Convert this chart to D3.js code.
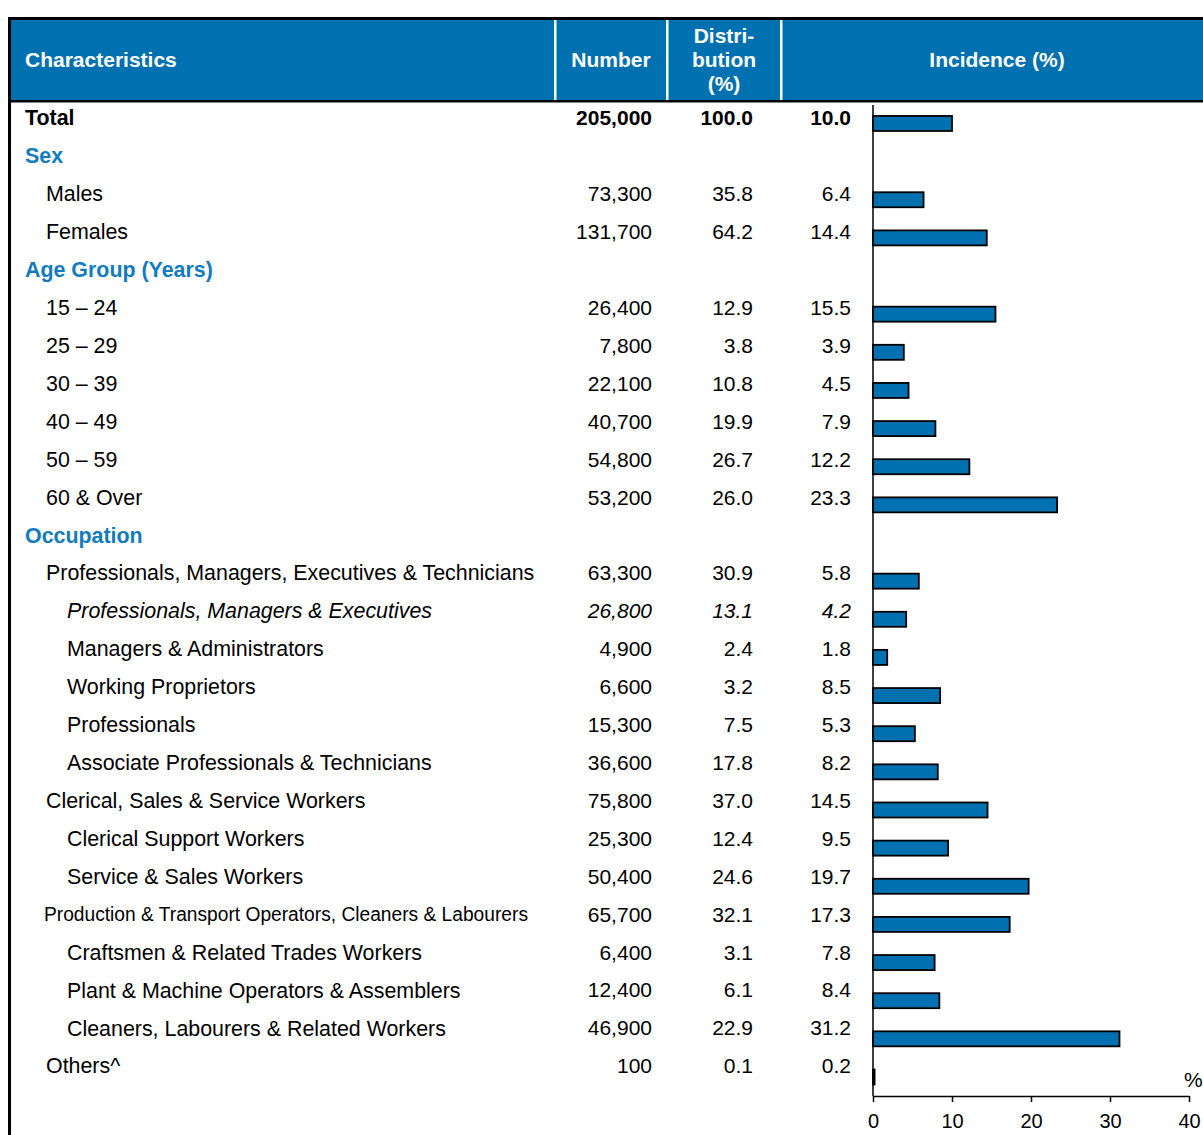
<!DOCTYPE html>
<html>
<head>
<meta charset="utf-8">
<script src="https://cdn.jsdelivr.net/npm/d3@7"></script>
<style>
  body { margin: 0; background: #fff; }
  text { font-family: "Liberation Sans", Arial, sans-serif; }
</style>
</head>
<body>
<div id="chart"></div>
<script>
// table rows
const labels = [
  "Total", "Sex", "Males", "Females", "Age Group (Years)",
  "15 \u2013 24", "25 \u2013 29", "30 \u2013 39", "40 \u2013 49", "50 \u2013 59", "60 & Over",
  "Occupation",
  "Professionals, Managers, Executives & Technicians",
  "Professionals, Managers & Executives",
  "Managers & Administrators",
  "Working Proprietors",
  "Professionals",
  "Associate Professionals & Technicians",
  "Clerical, Sales & Service Workers",
  "Clerical Support Workers",
  "Service & Sales Workers",
  "Production & Transport Operators, Cleaners & Labourers",
  "Craftsmen & Related Trades Workers",
  "Plant & Machine Operators & Assemblers",
  "Cleaners, Labourers & Related Workers",
  "Others^"
];
// 0 = total, 1 = section, 2 = item, 3 = sub item, 4 = italic sub item, 5 = narrow item
const kinds = [0, 1, 2, 2, 1, 2, 2, 2, 2, 2, 2, 1, 2, 4, 3, 3, 3, 3, 2, 3, 3, 5, 3, 3, 3, 2];
const numbers = ["205,000", null, "73,300", "131,700", null,
  "26,400", "7,800", "22,100", "40,700", "54,800", "53,200", null,
  "63,300", "26,800", "4,900", "6,600", "15,300", "36,600",
  "75,800", "25,300", "50,400", "65,700", "6,400", "12,400", "46,900", "100"];
const distribution = ["100.0", null, "35.8", "64.2", null,
  "12.9", "3.8", "10.8", "19.9", "26.7", "26.0", null,
  "30.9", "13.1", "2.4", "3.2", "7.5", "17.8",
  "37.0", "12.4", "24.6", "32.1", "3.1", "6.1", "22.9", "0.1"];
const incidence = [10.0, null, 6.4, 14.4, null,
  15.5, 3.9, 4.5, 7.9, 12.2, 23.3, null,
  5.8, 4.2, 1.8, 8.5, 5.3, 8.2,
  14.5, 9.5, 19.7, 17.3, 7.8, 8.4, 31.2, 0.2];
const xTicks = [0, 10, 20, 30, 40];

const W = 1203, H = 1135;
const blue = "#0071b0";
const sectionBlue = "#127bbf";

const svg = d3.select("#chart").append("svg")
  .attr("width", W).attr("height", H);

// text rows and bar rows are spaced slightly differently in the original
const y = d3.scaleBand()
  .domain(d3.range(labels.length))
  .range([99, 99 + 37.92 * labels.length]);
const yBar = d3.scaleBand()
  .domain(d3.range(labels.length))
  .range([104.4, 104.4 + 38.14 * labels.length]);
const x = d3.scaleLinear().domain([0, 40]).range([873, 1189]);

// header
svg.append("rect").attr("x", 11).attr("y", 20).attr("width", W - 11).attr("height", 80).attr("fill", blue);
svg.append("rect").attr("x", 8).attr("y", 17).attr("width", W - 8).attr("height", 3).attr("fill", "#000");
svg.append("rect").attr("x", 8).attr("y", 17).attr("width", 3).attr("height", H - 17).attr("fill", "#000");
svg.append("rect").attr("x", 11).attr("y", 100).attr("width", W - 11).attr("height", 2.5).attr("fill", "#000");
[554, 666, 780].forEach(sx => {
  svg.append("rect").attr("x", sx).attr("y", 20).attr("width", 2.5).attr("height", 80).attr("fill", "#fff");
});

const head = svg.append("g").attr("fill", "#fff").attr("font-weight", "bold").attr("font-size", 21);
head.append("text").attr("x", 25).attr("y", 60).attr("dy", "0.35em").text("Characteristics");
head.append("text").attr("x", 611).attr("y", 60).attr("dy", "0.35em").attr("text-anchor", "middle").text("Number");
["Distri-", "bution", "(%)"].forEach((t, i) => {
  head.append("text").attr("x", 724).attr("y", 36 + i * 24).attr("dy", "0.35em")
    .attr("text-anchor", "middle").text(t);
});
head.append("text").attr("x", 997).attr("y", 60).attr("dy", "0.35em").attr("text-anchor", "middle").text("Incidence (%)");

// rows
const rows = svg.append("g").attr("font-size", 21.4);
const indent = { 0: 25, 1: 25, 2: 46, 3: 67, 4: 67, 5: 44 };

labels.forEach((lab, i) => {
  const k = kinds[i];
  const cy = y(i) + y.bandwidth() / 2;
  const t = rows.append("text")
    .attr("x", indent[k]).attr("y", cy).attr("dy", "0.35em")
    .attr("fill", k === 1 ? sectionBlue : "#000")
    .attr("font-weight", k <= 1 ? "bold" : null)
    .attr("font-style", k === 4 ? "italic" : null)
    .text(lab);
  if (k === 5) t.attr("font-size", 19.5).attr("textLength", 484).attr("lengthAdjust", "spacingAndGlyphs");

  const cells = [[numbers[i], 652], [distribution[i], 753], [incidence[i] == null ? null : incidence[i].toFixed(1), 851]];
  cells.forEach(([v, cx]) => {
    if (v == null) return;
    rows.append("text")
      .attr("x", cx).attr("y", cy).attr("dy", "0.35em")
      .attr("text-anchor", "end")
      .attr("font-size", 21)
      .attr("font-weight", k === 0 ? "bold" : null)
      .attr("font-style", k === 4 ? "italic" : null)
      .text(v);
  });
});

// bars
const barData = incidence.map((v, i) => ({ v, i })).filter(d => d.v != null);
svg.append("g").selectAll("rect")
  .data(barData)
  .join("rect")
  .attr("x", x(0))
  .attr("y", d => yBar(d.i) + yBar.bandwidth() / 2 - 7.5)
  .attr("width", d => x(d.v) - x(0))
  .attr("height", 15)
  .attr("fill", blue)
  .attr("stroke", "#000")
  .attr("stroke-width", 1.8);

// axes
const axisY = 1096;
svg.append("line")
  .attr("x1", x(0)).attr("x2", x(0))
  .attr("y1", 105).attr("y2", axisY)
  .attr("stroke", "#000").attr("stroke-width", 1.5);

const xAxis = svg.append("g")
  .attr("transform", `translate(0,${axisY})`)
  .call(d3.axisBottom(x).tickValues(xTicks).tickSize(6).tickSizeOuter(0).tickPadding(12));
xAxis.select(".domain").attr("stroke-width", 1.5);
xAxis.selectAll(".tick line").attr("stroke-width", 1.5);
xAxis.selectAll(".tick text")
  .attr("font-family", "'Liberation Sans', Arial, sans-serif")
  .attr("font-size", 20).attr("fill", "#000");

svg.append("text").attr("x", 1184).attr("y", 1080).attr("dy", "0.35em")
  .attr("font-size", 21).text("%");
</script>
</body>
</html>
